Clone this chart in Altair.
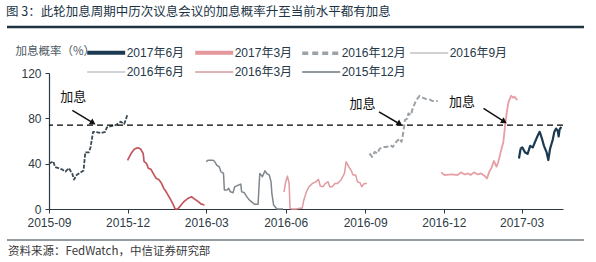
import altair as alt
import pandas as pd

# ---------------- data ----------------
s1_dates = ["2015-09-01", "2015-09-06", "2015-09-08", "2015-09-12", "2015-09-16", "2015-09-20", "2015-09-24",
            "2015-09-28", "2015-09-30", "2015-10-03", "2015-10-07", "2015-10-11", "2015-10-13", "2015-10-17",
            "2015-10-19", "2015-10-22", "2015-10-25", "2015-10-31", "2015-11-05", "2015-11-07", "2015-11-11",
            "2015-11-17", "2015-11-23", "2015-11-27", "2015-11-29", "2015-12-01"]
s1_vals = [40, 42, 37, 36, 35, 33, 36, 31, 26, 30, 32, 34, 50, 50, 54, 68, 68, 67, 68, 72, 73, 74, 77, 75, 79, 84]

s2_dates = ["2015-12-01", "2015-12-05", "2015-12-09", "2015-12-13", "2015-12-16", "2015-12-19", "2015-12-20",
            "2015-12-23", "2015-12-25", "2015-12-28", "2015-12-31", "2016-01-03", "2016-01-06", "2016-01-09",
            "2016-01-12", "2016-01-14", "2016-01-17", "2016-01-20", "2016-01-23", "2016-01-25", "2016-01-28",
            "2016-01-31", "2016-02-04", "2016-02-09", "2016-02-13", "2016-02-17", "2016-02-21", "2016-02-24",
            "2016-02-28"]
s2_vals = [43, 49, 53, 54, 53, 49, 42, 40, 36, 35, 31, 27, 26, 23, 18, 16, 12, 8, 3.5, 0, 0, 2.6, 6.4, 9.4,
           10.8, 8.5, 6.4, 4.4, 3.5]

s3_dates = ["2016-03-01", "2016-03-03", "2016-03-09", "2016-03-11", "2016-03-13", "2016-03-16", "2016-03-18",
            "2016-03-21", "2016-03-22", "2016-03-25", "2016-03-27", "2016-03-29", "2016-04-01", "2016-04-03",
            "2016-04-07", "2016-04-10", "2016-04-11", "2016-04-14", "2016-04-17", "2016-04-20", "2016-04-26",
            "2016-04-30", "2016-05-02", "2016-05-05", "2016-05-08", "2016-05-10", "2016-05-13", "2016-05-15",
            "2016-05-16", "2016-05-18", "2016-05-22", "2016-05-29"]
s3_vals = [41.7, 43, 43, 41.7, 38.8, 37.3, 33, 31.4, 16.7, 16.7, 18.2, 15.2, 14.4, 19.6, 21, 22, 15.2, 14.4,
           10.8, 7.9, 4.1, 4.1, 31.4, 28.5, 33.7, 31.4, 30, 24, 13.8, 3.5, 0, 0]

s4_dates = ["2016-05-30", "2016-06-01", "2016-06-03", "2016-06-05", "2016-06-06", "2016-06-08", "2016-06-13",
            "2016-06-17", "2016-06-20", "2016-06-22", "2016-06-25", "2016-06-28", "2016-07-02", "2016-07-06",
            "2016-07-09", "2016-07-11", "2016-07-14", "2016-07-17", "2016-07-20", "2016-07-22", "2016-07-25",
            "2016-07-28", "2016-07-31", "2016-08-04", "2016-08-08", "2016-08-10", "2016-08-13", "2016-08-16",
            "2016-08-18", "2016-08-21", "2016-08-23", "2016-08-26", "2016-08-28", "2016-08-31", "2016-09-03"]
s4_vals = [15, 24, 29, 22.6, 0.6, 0, 0, 0.6, 0.6, 7.9, 15.2, 19.6, 22.6, 24, 26.2, 20.3, 19.6, 22.6, 24, 19.6,
           19.6, 22.6, 22.6, 25.6, 31.4, 41.7, 37.3, 33.7, 30, 30, 24, 23.2, 19.6, 22.6, 22.6]

s5_dates = ["2016-09-06", "2016-09-09", "2016-09-12", "2016-09-15", "2016-09-18", "2016-09-22", "2016-09-26",
            "2016-09-30", "2016-10-03", "2016-10-07", "2016-10-11", "2016-10-13", "2016-10-14", "2016-10-16",
            "2016-10-17", "2016-10-20", "2016-10-21", "2016-10-24", "2016-10-26", "2016-10-30", "2016-11-03",
            "2016-11-07", "2016-11-11", "2016-11-14", "2016-11-18", "2016-11-24"]
s5_vals = [49, 46, 50.4, 49, 53.3, 54.8, 54.8, 56.3, 54.8, 59.3, 62.2, 59.3, 62.2, 72.5, 78.4, 79.9, 84.3, 82.8,
           88.7, 96, 99.9, 98.1, 96.9, 96.9, 95.2, 95.2]

s6_dates = ["2016-11-28", "2016-12-02", "2016-12-10", "2016-12-17", "2016-12-21", "2016-12-25", "2016-12-29",
            "2017-01-01", "2017-01-05", "2017-01-09", "2017-01-13", "2017-01-17", "2017-01-20", "2017-01-23",
            "2017-01-25", "2017-01-28", "2017-01-31", "2017-02-02", "2017-02-05", "2017-02-08", "2017-02-10",
            "2017-02-12", "2017-02-14", "2017-02-17", "2017-02-19", "2017-02-21", "2017-02-24"]
s6_vals = [32.3, 30, 30.5, 30, 32.3, 30.5, 31.4, 30, 32.3, 30.5, 31.4, 29.4, 27, 33.5, 35.9, 42.4, 37.3, 41.2,
           50.6, 59.4, 74.2, 85.9, 94.7, 99.9, 98.2, 99, 96.1]

s7_dates = ["2017-02-26", "2017-02-28", "2017-03-02", "2017-03-05", "2017-03-08", "2017-03-11", "2017-03-14",
            "2017-03-17", "2017-03-20", "2017-03-22", "2017-03-24", "2017-03-27", "2017-03-30", "2017-04-01",
            "2017-04-03", "2017-04-06", "2017-04-08", "2017-04-10", "2017-04-12", "2017-04-13", "2017-04-14",
            "2017-04-16"]
s7_vals = [44.6, 53.4, 54.3, 50, 48.6, 55.7, 54.3, 59.9, 65.2, 68.1, 63.7, 55.7, 50, 43.2, 53, 60.8, 68.1, 71,
           68.7, 64, 70, 72.5]

# legend order (as shown)
legend_names = ["2017年6月", "2017年3月", "2016年12月", "2016年9月", "2016年6月", "2016年3月", "2015年12月"]
legend_colors = ["#1b3a52", "#e4979c", "#9ca2a8", "#9a9a9a", "#9a9fa4", "#b65a5c", "#22323e"]
legend_widths = [4, 4, 3.5, 1, 1, 1, 1.2]
legend_dashes = [[1, 0], [1, 0], [6, 4], [1, 0], [1, 0], [1, 0], [1, 0]]

# series as drawn in the plot
series = [
    ("2015年12月", s1_dates, s1_vals, "#3b4a53", 1.8, [4, 1.5]),
    ("2016年3月", s2_dates, s2_vals, "#c4565d", 1.7, [1, 0]),
    ("2016年6月", s3_dates, s3_vals, "#7f878d", 1.5, [1, 0]),
    ("2016年9月", s4_dates, s4_vals, "#e19aa0", 1.5, [1, 0]),
    ("2016年12月", s5_dates, s5_vals, "#9ba1a7", 2.0, [5, 2.5]),
    ("2017年3月", s6_dates, s6_vals, "#e89ea4", 1.8, [1, 0]),
    ("2017年6月", s7_dates, s7_vals, "#1b3a52", 2.2, [1, 0]),
]

threshold = 74

ann_text_dates = ["2015-09-29", "2016-08-29", "2016-12-22"]
ann_text_vals = [99, 93, 94.5]
ann_start_dates = ["2015-09-28", "2016-09-17", "2017-01-16"]
ann_start_vals = [87, 85.7, 88.7]
ann_end_dates = ["2015-10-22", "2016-10-11", "2017-02-09"]
ann_end_vals = [76, 75, 77]
ann_label = "加息"

tick_dates = ["2015-09", "2015-12", "2016-03", "2016-06", "2016-09", "2016-12", "2017-03"]

title_text = "图 3：此轮加息周期中历次议息会议的加息概率升至当前水平都有加息"
source_text = "资料来源：FedWatch，中信证券研究部"
y_title = "加息概率（%）"

# ---------------- build ----------------
def dt(s):
    parts = [int(p) for p in s.split("-")]
    if len(parts) == 2:
        parts.append(1)
    return alt.DateTime(year=parts[0], month=parts[1], date=parts[2])

x_scale = alt.Scale(domain=[dt("2015-09-01"), dt("2017-04-18")])
y_scale = alt.Scale(domain=[0, 120], nice=False)

x_axis = alt.Axis(values=[dt(t) for t in tick_dates], format="%Y-%m", title=None, grid=False,
                  labelFontSize=12, labelFont="Liberation Sans", labelColor="#2e3b44",
                  tickSize=4, labelPadding=4, labelFlush=False, labelOverlap=False)
y_axis = alt.Axis(values=[0, 20, 40, 60, 80, 100, 120], grid=False, title=y_title,
                  titleAngle=0, titleAlign="left", titleBaseline="middle", titleX=-34, titleY=-22,
                  titleFont="Noto Sans CJK SC", titleFontSize=11.5, titleFontWeight="normal",
                  titleColor="#4d5b66", labelFontSize=12, labelFont="Liberation Sans",
                  labelColor="#2e3b44", tickSize=4, labelPadding=4)

layers = []
for name, ds, vs, col, w, dash in series:
    d = pd.DataFrame({"date": ds, "value": vs, "series": name})
    layers.append(alt.Chart(d).mark_line(color=col, strokeWidth=w, strokeDash=dash,
                                         strokeJoin="round").encode(
        x=alt.X("date:T", scale=x_scale, axis=x_axis),
        y=alt.Y("value:Q", scale=y_scale, axis=y_axis),
    ))

one = pd.DataFrame({"k": [0]})
layers.append(alt.Chart(one).mark_rule(color="#000000", strokeWidth=1.3, strokeDash=[6, 4])
              .encode(y=alt.datum(threshold, type="quantitative")))

ann = pd.DataFrame({"td": ann_text_dates, "tv": ann_text_vals,
                    "sd": ann_start_dates, "sv": ann_start_vals,
                    "ed": ann_end_dates, "ev": ann_end_vals, "label": ann_label})
layers.append(alt.Chart(ann).mark_text(font="Noto Sans CJK SC", fontSize=13, color="#111111")
              .encode(x="td:T", y="tv:Q", text="label:N"))
layers.append(alt.Chart(ann).mark_rule(color="#111111", strokeWidth=1.5)
              .encode(x="sd:T", y="sv:Q", x2="ed:T", y2="ev:Q"))
layers.append(alt.Chart(ann).mark_point(shape="triangle-up", filled=True, color="#111111",
                                        size=45, angle=122, opacity=1)
              .encode(x="ed:T", y="ev:Q"))

# legend layer (zero-length rules, legend only)
leg = pd.DataFrame({"leg": legend_names})
legend_common = dict(orient="none", legendX=36, legendY=-29, columns=4, direction="horizontal",
                     title=None, symbolType="M-3,0H3", symbolSize=160, symbolOffset=12.7,
                     labelOffset=12, columnPadding=2, rowPadding=4,
                     labelFont="Liberation Sans, Noto Sans CJK SC", labelFontSize=12,
                     labelColor="#263848", symbolFillColor="transparent")
layers.append(alt.Chart(leg).mark_rule(strokeCap="butt").encode(
    x=alt.value(0), x2=alt.value(0), y=alt.value(0),
    color=alt.Color("leg:N", scale=alt.Scale(domain=legend_names, range=legend_colors),
                    legend=alt.Legend(**legend_common)),
    strokeDash=alt.StrokeDash("leg:N", scale=alt.Scale(domain=legend_names, range=legend_dashes),
                              legend=alt.Legend(**legend_common)),
    strokeWidth=alt.StrokeWidth("leg:N", scale=alt.Scale(type="ordinal", domain=legend_names,
                                                         range=legend_widths),
                                legend=alt.Legend(**legend_common)),
))

# decorations: title, rules, source
layers.append(alt.Chart(one).mark_text(text=title_text, align="left", baseline="middle",
                                       font="Noto Sans CJK SC", fontSize=12.5, color="#1c3445")
              .encode(x=alt.value(-43), y=alt.value(-61)))
layers.append(alt.Chart(one).mark_rule(color="#1f3340", strokeWidth=2.5)
              .encode(x=alt.value(-42), x2=alt.value(535), y=alt.value(-46)))
layers.append(alt.Chart(one).mark_rule(color="#2a3a44", strokeWidth=1.2)
              .encode(x=alt.value(-42), x2=alt.value(535), y=alt.value(167)))
layers.append(alt.Chart(one).mark_text(text=source_text, align="left", baseline="middle",
                                       font="Noto Sans CJK SC", fontSize=11.5, color="#3a3a3a")
              .encode(x=alt.value(-41), y=alt.value(179)))

chart = alt.layer(*layers).properties(
    width=514, height=136,
    padding={"left": 49, "top": 73, "right": 33, "bottom": 53},
    autosize=alt.AutoSizeParams(type="none"),
    background="white",
).configure_view(stroke=None).configure_axis(
    domainColor="#2a3a44", domainWidth=1.2, tickColor="#2a3a44", tickWidth=1
)

chart.save("out.html", embed_options={"renderer": "svg", "actions": False})
